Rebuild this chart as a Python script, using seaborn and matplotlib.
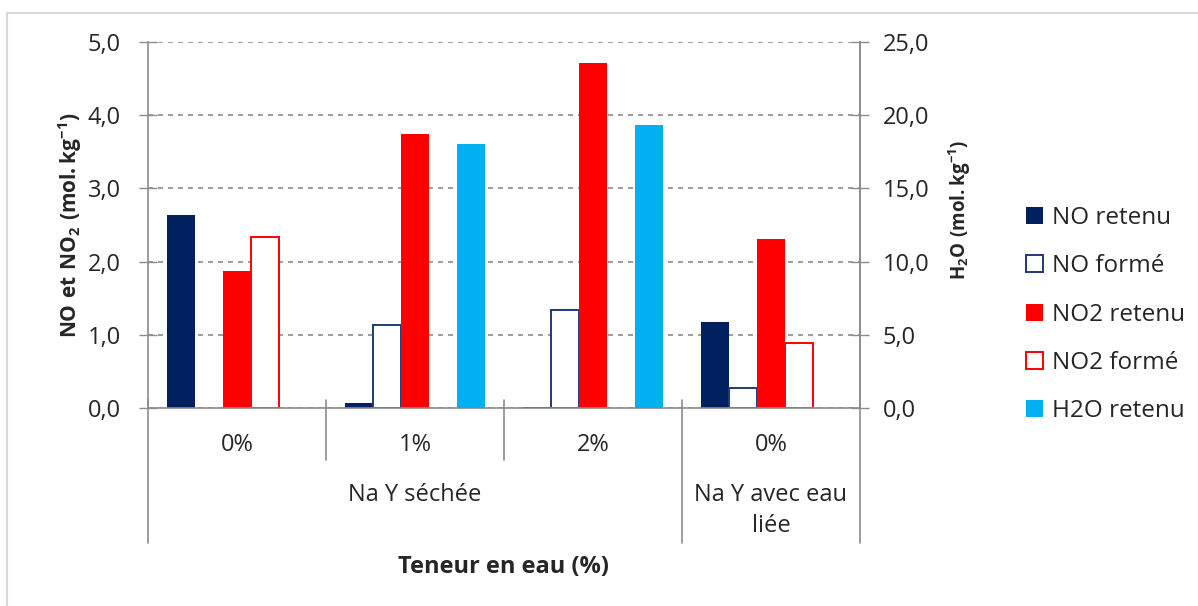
import matplotlib
matplotlib.use("Agg")
import matplotlib.pyplot as plt
import matplotlib.transforms as mtransforms
from matplotlib.patches import Patch
from matplotlib.lines import Line2D
import numpy as np
import pandas as pd
import seaborn as sns

# Water content of each sample, grouped by zeolite treatment
teneur = ["0%", "1%", "2%", "0%"]
traitement = ["Na Y séchée", "Na Y séchée", "Na Y séchée", "Na Y avec eau liée"]
groupes = ["G1", "G2", "G3", "G4"]

# Amounts (mol/kg); NaN = no bar
no_retenu = [2.64, 0.07, 0.02, 1.17]
no_forme = [np.nan, 1.13, 1.34, 0.28]
no2_retenu = [1.87, 3.75, 4.71, 2.31]
no2_forme = [2.34, np.nan, np.nan, 0.89]
h2o_retenu = [np.nan, 18.0, 19.3, np.nan]  # secondary axis

series = ["NO retenu", "NO formé", "NO2 retenu", "NO2 formé", "H2O retenu"]
valeurs = [no_retenu, no_forme, no2_retenu, no2_forme, h2o_retenu]
couleurs = ["#002060", "#1F3A7A", "#FF0000", "#FF0000", "#00B0F0"]
creux = {"NO formé", "NO2 formé"}
palette = dict(zip(series, couleurs))

df = pd.DataFrame(
    [(g, s, v) for s, vals in zip(series, valeurs) for g, v in zip(groupes, vals)],
    columns=["groupe", "serie", "valeur"],
)

sns.set_style("white")
plt.rcParams["font.family"] = ["Open Sans", "DejaVu Sans"]
plt.rcParams["mathtext.fontset"] = "custom"
plt.rcParams["mathtext.rm"] = "Open Sans"
plt.rcParams["mathtext.bf"] = "Open Sans:bold"

GRIS = "#8C8C8C"
FS = 17

fig = plt.figure(figsize=(11.98, 6.06), dpi=100)
ax = fig.add_axes([0.1235, 0.3267, 0.5943, 0.604])
ax2 = ax.twinx()

for s in series:
    cible = ax2 if s == "H2O retenu" else ax
    sub = df[df["serie"] == s]
    avant = len(cible.patches)
    sns.barplot(
        data=sub, x="groupe", y="valeur", hue="serie",
        order=groupes, hue_order=series, palette=palette, saturation=1,
        width=0.79, gap=0, dodge=True, legend=False, errorbar=None,
        linewidth=0, ax=cible,
    )
    for p in cible.patches[avant:]:
        if s in creux:
            p.set_facecolor("white")
            p.set_edgecolor(palette[s])
            p.set_linewidth(1.4)
        else:
            p.set_edgecolor("none")

for a in (ax, ax2):
    a.set_xlim(-0.5, 3.5)
    a.set_xlabel("")
    a.tick_params(axis="x", length=0, labelbottom=False)

ax.set_ylim(0, 5)
ax2.set_ylim(0, 25)
ax.set_yticks(np.arange(0, 5.01, 1))
ax2.set_yticks(np.arange(0, 25.01, 5))
ax.set_yticklabels([f"{v:.1f}".replace(".", ",") for v in ax.get_yticks()], fontsize=FS)
ax2.set_yticklabels([f"{v:.1f}".replace(".", ",") for v in ax2.get_yticks()], fontsize=FS)
ax.tick_params(axis="y", direction="inout", length=13, width=1, color=GRIS, pad=13)
ax2.tick_params(axis="y", direction="inout", length=13, width=1, color=GRIS, pad=10)

ax.set_axisbelow(True)
ax.yaxis.grid(True, color=GRIS, linestyle=(0, (3, 3)), linewidth=1.2)
ax.xaxis.grid(False)
ax2.grid(False)

for a in (ax, ax2):
    for k, sp in a.spines.items():
        sp.set_color(GRIS)
        sp.set_linewidth(1.2)
    a.spines["top"].set_visible(False)
ax2.spines["left"].set_visible(False)
ax2.spines["bottom"].set_visible(False)

ax.set_ylabel(r"$\mathbf{NO\ et\ NO_2\ (mol.kg^{-1})}$", fontsize=15)
ax.yaxis.set_label_coords(-0.09, 0.5)
ax2.set_ylabel(r"$\mathbf{H_2O\ (mol.kg^{-1})}$", fontsize=13.5)
ax2.yaxis.set_label_coords(1.122, 0.541)

# Two-level category axis drawn under the plot
trans = mtransforms.blended_transform_factory(ax.transData, ax.transAxes)
for i, t in enumerate(teneur):
    ax.text(i, -0.101, t, transform=trans, ha="center", va="center", fontsize=FS)

niveaux = []
for i, tr in enumerate(traitement):
    if niveaux and niveaux[-1][0] == tr:
        niveaux[-1][2] = i
    else:
        niveaux.append([tr, i, i])
for tr, d, f in niveaux:
    centre = (d + f) / 2
    if f - d >= 1:
        ax.text(centre, -0.238, tr, transform=trans, ha="center", va="center", fontsize=FS)
    else:
        ax.text(centre, -0.28, tr.replace("avec eau ", "avec eau\n"), transform=trans,
                ha="center", va="center", fontsize=FS, linespacing=1.35)

bornes_ext = [niveaux[0][1] - 0.5] + [f + 0.5 for _, _, f in niveaux]
for x in np.arange(-0.5, len(groupes), 1.0):
    bas = -0.369 if any(np.isclose(x, b) for b in bornes_ext) else -0.142
    ax.plot([x, x], [0.022, bas], transform=trans, color=GRIS, linewidth=1.2,
            clip_on=False, zorder=5)

ax.text(1.5, -0.434, "Teneur en eau (%)", transform=trans, ha="center", va="center",
        fontsize=17, fontweight="bold")

poignees = [
    Patch(facecolor="white" if s in creux else palette[s],
          edgecolor=palette[s] if s in creux else "none", linewidth=1.4, label=s)
    for s in series
]
fig.legend(handles=poignees, loc="center left", bbox_to_anchor=(0.848, 0.481),
           frameon=False, fontsize=17.5, handlelength=0.7, handleheight=0.7,
           handletextpad=0.4, labelspacing=1.0, borderaxespad=0)

# Chart frame (top and left edges)
fig.add_artist(Line2D([7 / 1198, 1.0], [1 - 13 / 606, 1 - 13 / 606],
                      transform=fig.transFigure, color="#D9D9D9", linewidth=1.5))
fig.add_artist(Line2D([7 / 1198, 7 / 1198], [0, 1 - 13 / 606],
                      transform=fig.transFigure, color="#D9D9D9", linewidth=1.5))

fig.savefig("out.png", dpi=100, facecolor="white")
